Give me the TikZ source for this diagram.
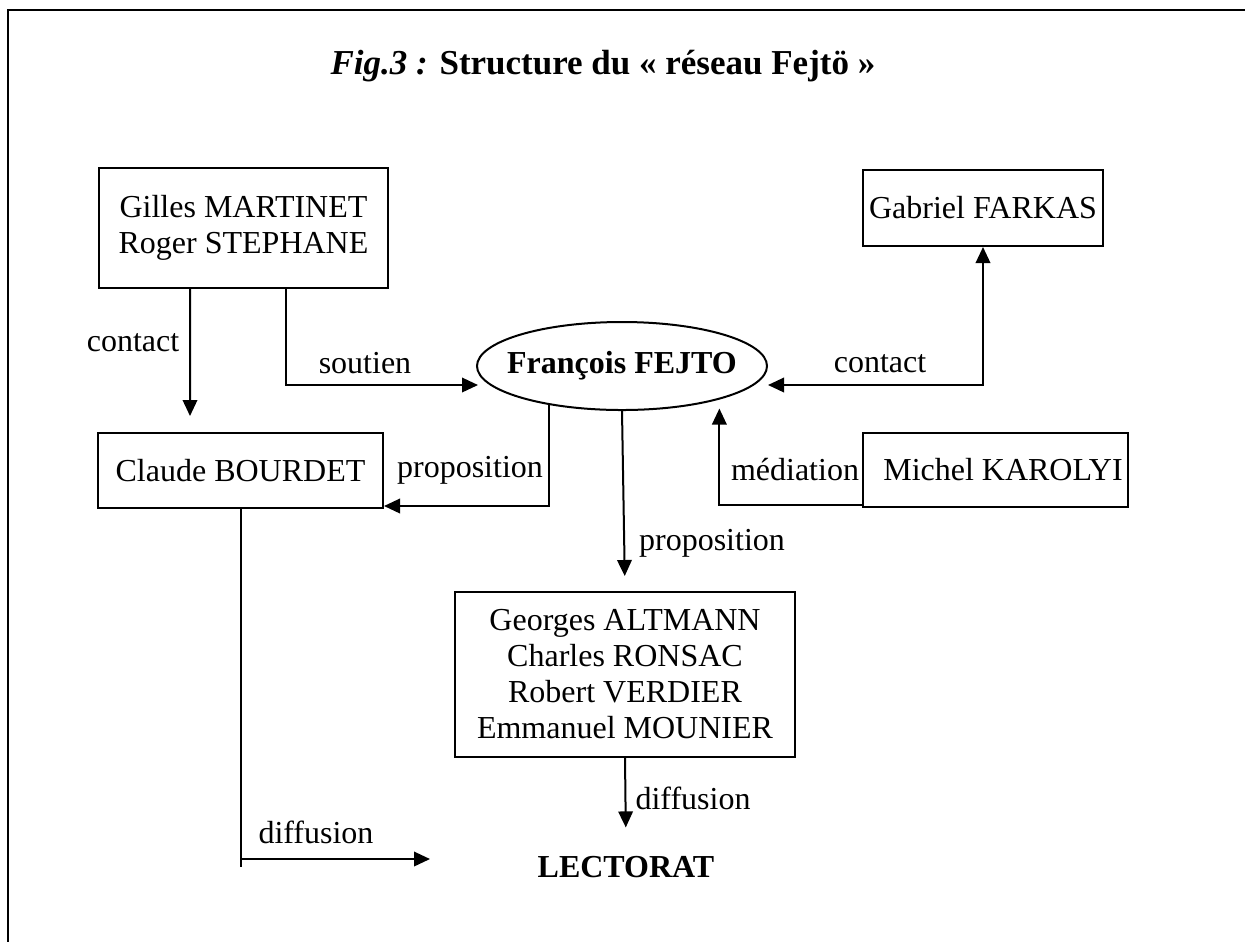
\documentclass[tikz,border=0pt]{standalone}
\usepackage{fontspec}
\setmainfont{Liberation Serif}
\usetikzlibrary{arrows.meta,shapes,positioning,calc}

\begin{document}
\begin{tikzpicture}[x=0.4pt, y=-0.4pt,
  every node/.style={font=\fontsize{12.8}{14.4}\selectfont},
  namebox/.style={draw, line width=0.8pt, inner sep=0pt, align=center},
  arr/.style={-{Triangle[length=6.4pt,width=5.8pt]}, line width=0.8pt},
  lbl/.style={inner sep=0pt}]
  \useasboundingbox (0,0) rectangle (1245,942);
  % cadre
  \draw[line width=0.9pt] (1245,10) -- (8,10) -- (8,942);
  \node[font=\fontsize{14}{16}\selectfont] (title) at (603,66)
    {\textbf{\textit{Fig.3 :}} \textbf{Structure du «~réseau Fejtö~»}};
  % acteurs
  \node[namebox, minimum width=115.6pt, minimum height=48pt] (ms) at (243.5,228)
    {Gilles MARTINET\\Roger STEPHANE};
  \node[namebox, minimum width=96pt, minimum height=30.4pt] (farkas) at (983,208)
    {Gabriel FARKAS};
  \node[draw, ellipse, line width=0.8pt, inner sep=0pt,
        minimum width=116pt, minimum height=35.2pt] (fejto) at (622,366)
    {\makebox[0pt]{\textbf{François FEJTO}}};
  \node[namebox, minimum width=114pt, minimum height=30pt] (bourdet) at (240.5,470.5)
    {Claude BOURDET};
  \node[namebox, minimum width=106pt, minimum height=29.6pt] (karolyi) at (995.5,470)
    {\hspace{6pt}Michel KAROLYI};
  \node[namebox, minimum width=136pt, minimum height=66pt] (group) at (625,674.5)
    {Georges ALTMANN\\Charles RONSAC\\Robert VERDIER\\Emmanuel MOUNIER};
  \node (lectorat) at (626,867) {\textbf{LECTORAT}};
  \coordinate (lectin) at (430,859);
  % liens
  \draw[arr, shorten >=6.4pt] ($(ms.south west)+(92,0)$) -- ($(bourdet.north west)+(93,0)$);
  \draw[arr] ($(ms.south west)+(188,0)$) |- ($(fejto.west)+(2,19)$);
  \draw[{Triangle[length=6.4pt,width=5.8pt]}-{Triangle[length=6.4pt,width=5.8pt]}, line width=0.8pt]
    ($(fejto.east)+(0,19)$) -| (farkas.south);
  \draw[arr] (fejto.208) |- ($(bourdet.south east)+(0,-3)$);
  \draw[arr, shorten >=3.6pt] ($(karolyi.south west)+(0,-3)$) -| (fejto.-19);
  \draw[arr, shorten >=6pt] (fejto.south) -- (group.north);
  \draw[arr, shorten >=8pt] (group.south) -- (lectorat.north);
  \draw[line width=0.8pt] (bourdet.south) -- ++(0,358);
  \draw[arr] (bourdet.south |- lectin) -- (lectin);
  % etiquettes
  \node[lbl] (lcontactl) at (133,343) {contact};
  \node[lbl] (lsoutien) at (365,363) {soutien};
  \node[lbl] (lcontactr) at (880,364) {contact};
  \node[lbl] (lpropl) at (470,470) {proposition};
  \node[lbl] (lmed) at (795,470) {médiation};
  \node[lbl] (lpropd) at (712,543) {proposition};
  \node[lbl] (ldiffl) at (316,832) {diffusion};
  \node[lbl] (ldiffr) at (693,798) {diffusion};
\end{tikzpicture}
\end{document}
